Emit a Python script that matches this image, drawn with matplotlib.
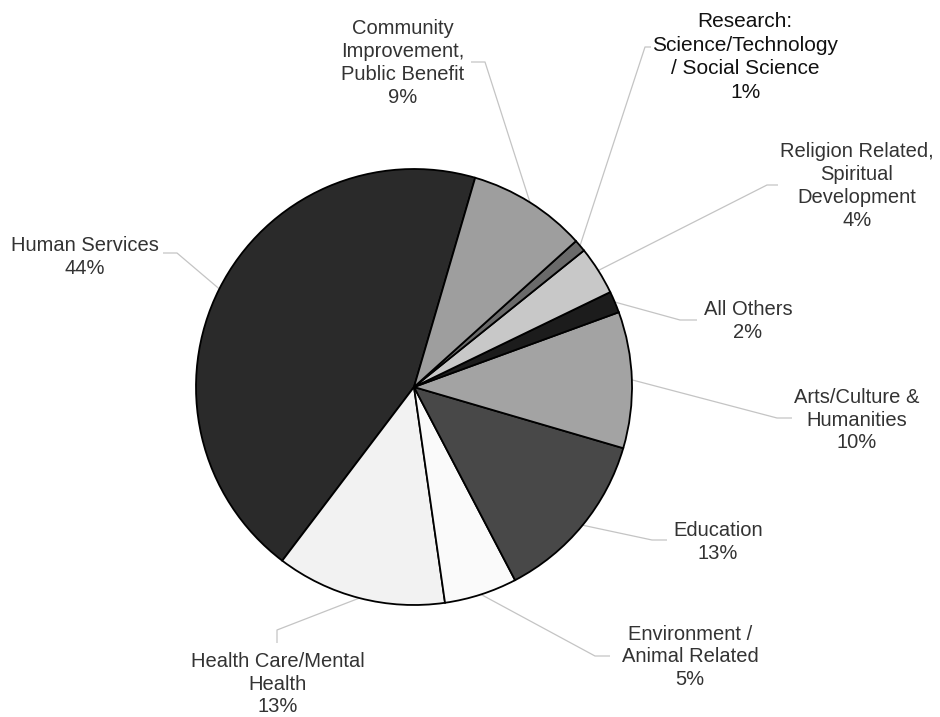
import numpy as np
import matplotlib
matplotlib.use("Agg")
import matplotlib.pyplot as plt

# ---- data (counter-clockwise order, starting at the top) ----
categories = [
    "Human Services",
    "Health Care/Mental\nHealth",
    "Environment /\nAnimal Related",
    "Education",
    "Arts/Culture &\nHumanities",
    "All Others",
    "Religion Related,\nSpiritual\nDevelopment",
    "Research:\nScience/Technology\n/ Social Science",
    "Community\nImprovement,\nPublic Benefit",
]
values = [44.2, 12.6, 5.4, 12.8, 10.1, 1.6, 3.6, 0.9, 8.8]
colors = ["#2a2a2a", "#f2f2f2", "#fafafa", "#484848", "#a3a3a3",
          "#1c1c1c", "#c8c8c8", "#6a6a6a", "#9e9e9e"]

W, H = 940, 717
fig = plt.figure(figsize=(W / 100, H / 100), dpi=100)
ax = fig.add_axes([0, 0, 1, 1])

cx, cy, R = 414, H - 387, 218
wedges, _ = ax.pie(values, colors=colors, startangle=73.7, counterclock=True,
                   center=(cx, cy), radius=R, frame=True,
                   wedgeprops=dict(edgecolor="black", linewidth=1.3))
ax.set_xlim(0, W)
ax.set_ylim(0, H)
ax.set_aspect("equal")
ax.axis("off")

def Y(y):
    return H - y

# label layout (text centre, leader path after the pie-edge start point) in pixel coords
layout = [
    ((85, 257), [(177, 253), (163, 253)], 14.5, "#333333", 1.25),
    ((278, 684), [(277, 630), (277, 643)], 14.5, "#333333", 1.25),
    ((690, 657), [(595, 656), (610, 656)], 14.5, "#333333", 1.25),
    ((718, 542), [(652, 540), (667, 540)], 14.5, "#333333", 1.25),
    ((857, 420), [(777, 418), (792, 418)], 14.5, "#333333", 1.25),
    ((748, 321), [(680, 320), (697, 320)], 14.5, "#333333", 1.25),
    ((857, 186), [(767, 185), (778, 185)], 14.5, "#333333", 1.25),
    ((745, 57), [(645, 47), (651, 47)], 15, "#111111", 1.3),
    ((403, 63), [(485, 62), (471, 62)], 14.5, "#333333", 1.25),
]

for w, name, v, (pos, path, fs, tc, ls) in zip(wedges, categories, values, layout):
    mid = np.deg2rad((w.theta1 + w.theta2) / 2)
    sx, sy = cx + R * np.cos(mid), cy + R * np.sin(mid)
    xs = [sx] + [p[0] for p in path]
    ys = [sy] + [Y(p[1]) for p in path]
    ax.plot(xs, ys, color="#c4c4c4", lw=0.9, zorder=0, solid_capstyle="butt")
    ax.text(pos[0], Y(pos[1]), f"{name}\n{round(v)}%", ha="center", va="center",
            multialignment="center", fontsize=fs, color=tc,
            family=["Liberation Sans", "DejaVu Sans"], linespacing=ls)

fig.savefig("out.png", dpi=100, facecolor="white")
